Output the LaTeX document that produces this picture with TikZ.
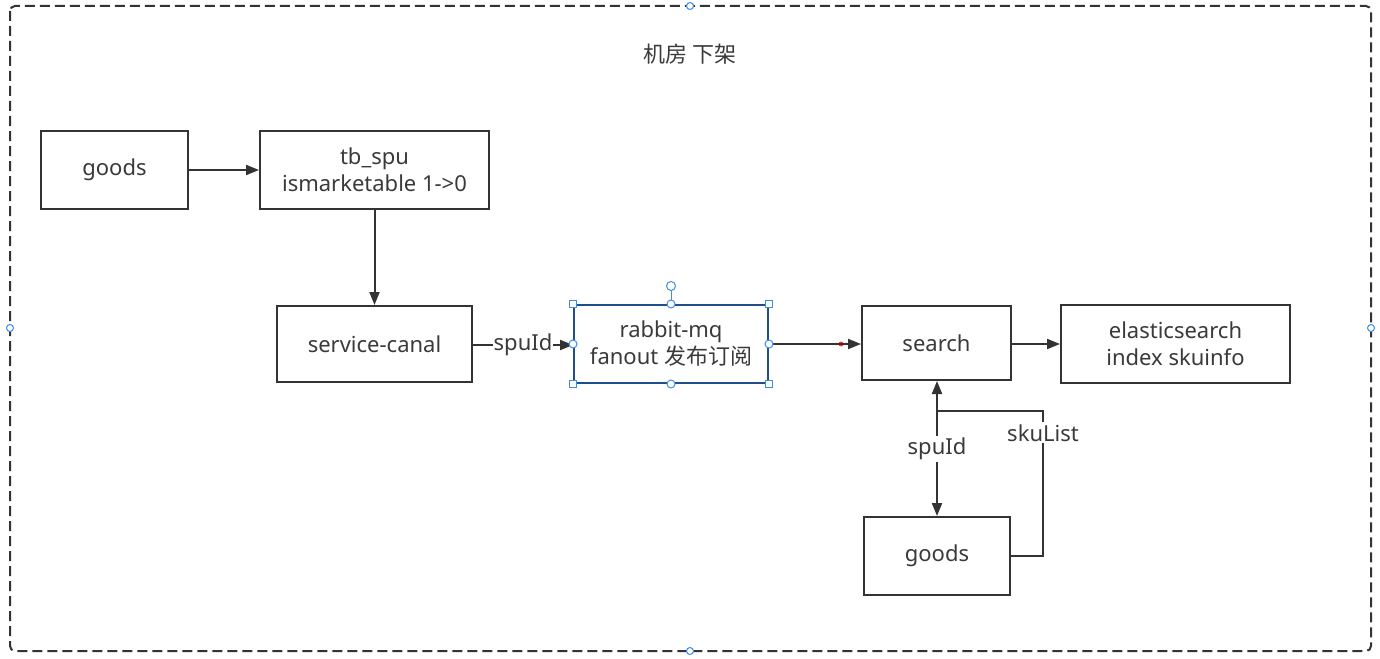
\documentclass[tikz,border=0pt]{standalone}
\usepackage{fontspec}
\setmainfont{Noto Sans}
\newfontfamily\cjk{Noto Sans CJK SC}
\usetikzlibrary{arrows.meta}
\definecolor{ln}{HTML}{333333}
\definecolor{tx}{HTML}{3A3A3A}
\definecolor{hb}{HTML}{3C8DE8}
\definecolor{sel}{HTML}{1E4F8A}
\tikzset{
  box/.style={draw=ln, line width=2pt, fill=white, inner sep=0pt, text=tx, font=\fontsize{22}{27}\selectfont, align=center},
  conn/.style={draw=ln, line width=2pt, -{Triangle[length=13pt,width=10pt]}},
  lbl/.style={fill=white, text=tx, font=\fontsize{22}{26}\selectfont, inner sep=2pt},
  hcirc/.style={circle, draw=hb, fill=white, line width=1pt, minimum size=8pt, inner sep=0pt},
  hsq/.style={rectangle, draw=hb, fill=white, line width=1pt, minimum size=7pt, inner sep=0pt},
}
\begin{document}
\begin{tikzpicture}[x=1pt,y=-1pt]
\useasboundingbox (0,0) rectangle (1380,658);
\fill[white] (0,0) rectangle (1380,658);
% frame
\draw[ln, line width=2pt, dash pattern=on 10pt off 5pt, rounded corners=5pt] (10,6) rectangle (1371,651);
\node[hcirc, minimum size=7pt] (f1) at (690,6) {};
\node[hcirc, minimum size=7pt] (f2) at (10,328) {};
\node[hcirc, minimum size=7pt] (f3) at (1371,328) {};
\node[hcirc, minimum size=7pt] (f4) at (690,651) {};
% title
\node[text=tx, font=\fontsize{22}{26}\selectfont\cjk] (title) at (690,54) {机房 下架};
% boxes
\node[box, minimum width=147pt, minimum height=78pt] (g1) at (114.5,170) {goods};
\node[box, minimum width=229pt, minimum height=78pt] (spu) at (374.5,170) {tb\_spu\\ismarketable 1->0};
\node[box, minimum width=195pt, minimum height=76pt] (canal) at (374.5,344) {service-canal};
\node[box, draw=sel, minimum width=194pt, minimum height=78pt] (mq) at (671,344) {rabbit-mq\\fanout {\cjk 发布订阅}};
\node[box, minimum width=149pt, minimum height=74pt] (search) at (936.5,343) {search};
\node[box, minimum width=229pt, minimum height=78pt] (es) at (1175.5,344) {elasticsearch\\index skuinfo};
\node[box, minimum width=146pt, minimum height=78pt] (g2) at (937,556) {goods};
% connectors
\draw[conn] (g1.east |- 0,170) -- (spu.west |- 0,170);
\draw[conn] (spu.south) -- (canal.north);
\draw[conn] (canal.east |- 0,345) -- node[lbl, inner sep=1pt] (l1) {spuId} (mq.west |- 0,345);
\draw[conn] (mq.east |- 0,344) -- (search.west |- 0,344);
\fill[red!70!black, opacity=0.7] (841,344) circle (2.5pt);
\draw[conn] (search.east |- 0,344) -- (es.west |- 0,344);
\draw[conn, {Triangle[length=13pt,width=10pt]}-{Triangle[length=13pt,width=10pt]}] (search.south -| 937,0) -- node[lbl, pos=0.5] (l2) {spuId} (g2.north -| 937,0);
\coordinate (k1) at (1043,556);
\coordinate (k2) at (1043,411);
\coordinate (k3) at (937,411);
\draw[ln, line width=2pt] (g2.east |- k1) -- (k1) -- node[lbl, pos=0.85] (l3) {skuList} (k2) -- (k3);
% selection handles of rabbit-mq
\draw[hb, line width=1pt] (mq.north) -- (671,286);
\node[hcirc, minimum size=9pt] (rot) at (671,286) {};
\foreach \a in {north west, north east, south west, south east} \node[hsq] at (mq.\a) {};
\foreach \a in {north, south, east, west} \node[hcirc, minimum size=8pt] at (mq.\a) {};
\end{tikzpicture}
\end{document}
